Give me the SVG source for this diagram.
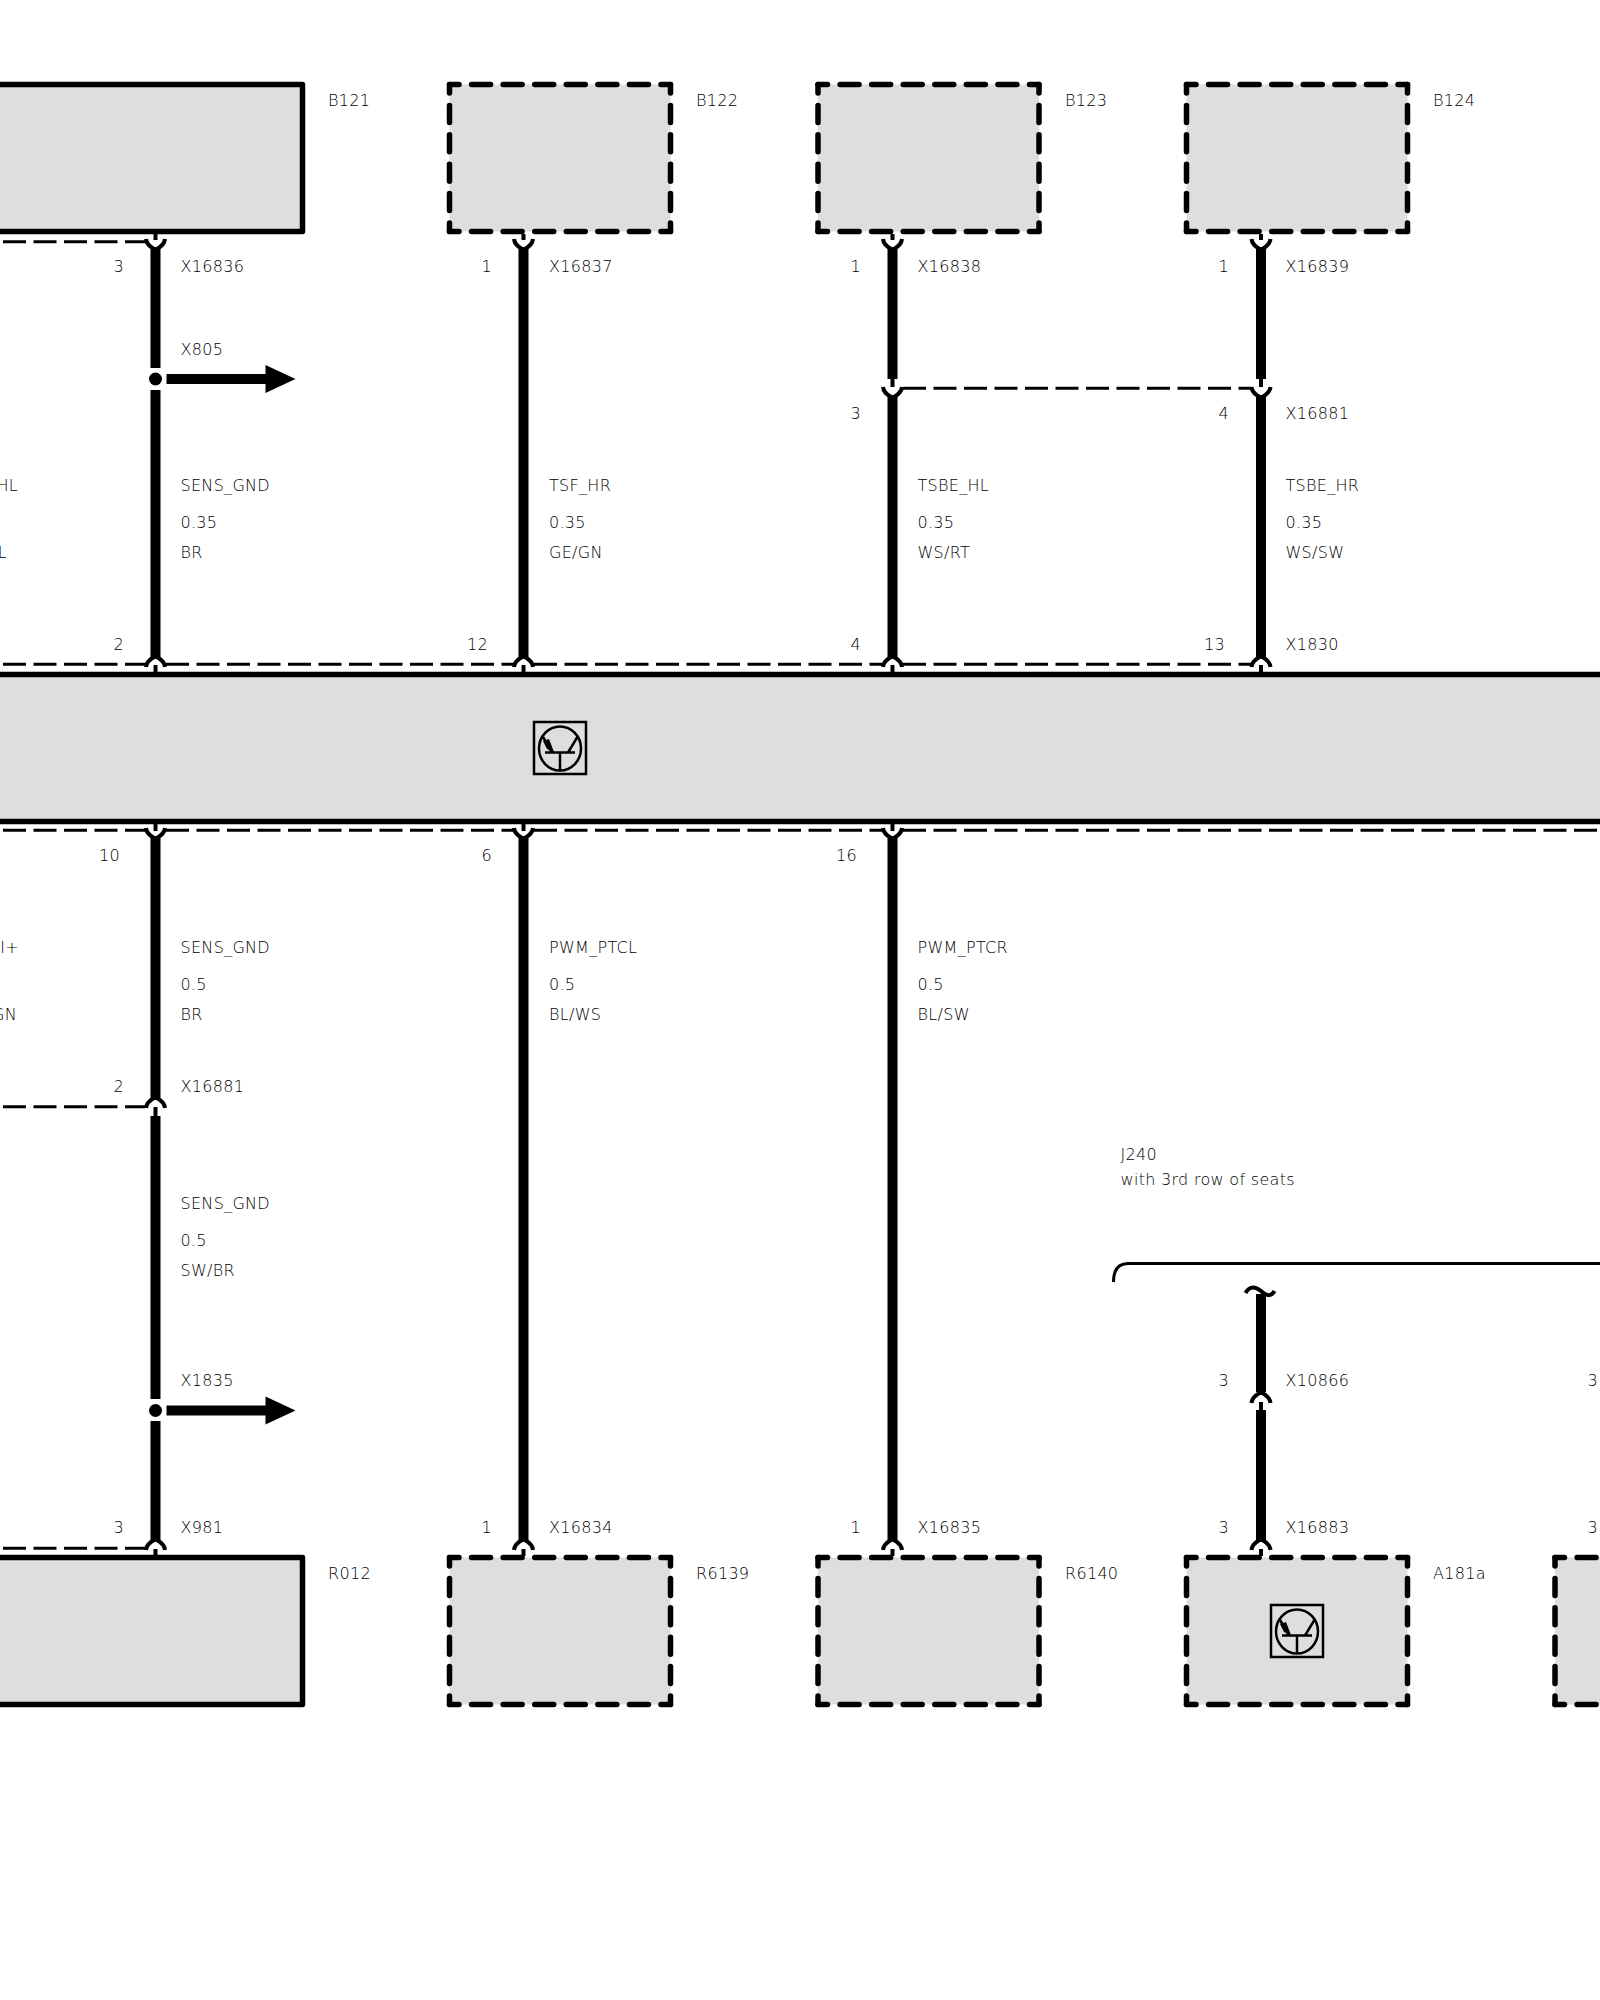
<svg xmlns="http://www.w3.org/2000/svg" xmlns:xlink="http://www.w3.org/1999/xlink" width="1600" height="2000" viewBox="0 0 1600 2000">
<style>
text{font-family:"DejaVu Sans","Liberation Sans",sans-serif;font-size:16px;font-weight:200;fill:#000;letter-spacing:.3px}
.e{text-anchor:end}
.box{fill:#dedede;stroke:none}
.solid{fill:#dedede;stroke:#000;stroke-width:5.5;stroke-linejoin:round}
.dh,.dv{fill:none;stroke:#000;stroke-width:5.5;stroke-linecap:round;stroke-linejoin:round}
.wire{stroke:#000;stroke-width:10;fill:none}
.stub{stroke:#000;stroke-width:4;fill:none}
.cup{stroke:#000;stroke-width:4;fill:none}
.dash{stroke:#000;stroke-width:3;fill:none;stroke-dasharray:23 7.5}
.icon{fill:none;stroke:#000;stroke-width:2.5}
</style>
<defs>
<path id="cupd" d="M-9.5 -2C-9 3-5 6-1.5 8L1.5 8C5 6 9 3 9.5 -2" class="cup"/>
<path id="capu" d="M-9.5 2C-9 -3-5 -6-1.5 -8L1.5 -8C5 -6 9 -3 9.5 2" class="cup"/>
<g id="dbox">
<rect class="box" x="0" y="0" width="221" height="147"/>
<path d="M0 0H221M0 147H221" class="dh" stroke-dasharray="19 12.57" stroke-dashoffset="9.5"/>
<path d="M0 0V147M221 0V147" class="dv" stroke-dasharray="17 12.4" stroke-dashoffset="8.5"/>
</g>
<g id="tr">
<rect x="-26" y="-26" width="52" height="52" fill="none" stroke="#000" stroke-width="2.5"/>
<ellipse class="icon" cx="0" cy="0.5" rx="21" ry="22"/>
<path class="icon" d="M-15 4.5H15M0 4.5V22M8 4.5L18 -12M-8 4.5L-17 -11"/>
<path d="M-17 -7L-11 -9L-6 4L-13 1Z" fill="#000"/>
</g>
<g id="arr">
<circle cx="0" cy="0" r="6.5" fill="#000"/>
<path d="M11 0H112" stroke="#000" stroke-width="10"/>
<path d="M110 -14L140 0L110 14Z" fill="#000"/>
</g>
</defs>
<g id="bus-X1830">
<rect x="-5" y="674.5" width="1610" height="147" class="solid"/>
<use xlink:href="#tr" href="#tr" x="560" y="748"/>
</g>
<g id="B121"><rect x="-20" y="84.5" width="322.5" height="147" class="solid"/><text x="328" y="105.5">B121</text></g>
<g id="B122"><use xlink:href="#dbox" href="#dbox" x="449.5" y="84.5"/><text x="696" y="105.5">B122</text></g>
<g id="B123"><use xlink:href="#dbox" href="#dbox" x="818" y="84.5"/><text x="1065" y="105.5">B123</text></g>
<g id="B124"><use xlink:href="#dbox" href="#dbox" x="1186.5" y="84.5"/><text x="1433" y="105.5">B124</text></g>
<g id="R012"><rect x="-20" y="1557.5" width="322.5" height="147" class="solid"/><text x="328" y="1579">R012</text></g>
<g id="R6139"><use xlink:href="#dbox" href="#dbox" x="449.5" y="1557.5"/><text x="696" y="1579">R6139</text></g>
<g id="R6140"><use xlink:href="#dbox" href="#dbox" x="818" y="1557.5"/><text x="1065" y="1579">R6140</text></g>
<g id="A181a"><use xlink:href="#dbox" href="#dbox" x="1186.5" y="1557.5"/><use xlink:href="#tr" href="#tr" x="1297" y="1631"/><text x="1433" y="1579">A181a</text></g>
<g id="offpage-box"><use xlink:href="#dbox" href="#dbox" x="1555" y="1557.5"/></g>
<g id="connectors">
<path class="wire" d="M155.5 249V368M155.5 390V657M155.5 838V1098M155.5 1116V1399M155.5 1421V1540"/>
<path class="wire" d="M523.5 249V657M523.5 838V1540"/>
<path class="wire" d="M892.5 249V379M892.5 396V657M892.5 838V1540"/>
<path class="wire" d="M1261 249V379M1261 396V657M1261 1294V1392M1261 1410V1540"/>
<path class="stub" d="M155.5 234V240M523.5 234V240M892.5 234V240M1261 234V240M892.5 378V387M1261 378V387M155.5 665V672M523.5 665V672M892.5 665V672M1261 665V672M155.5 824V831M523.5 824V831M892.5 824V831M155.5 1107V1117M1261 1402V1411M155.5 1549V1556M523.5 1549V1556M892.5 1549V1556M1261 1549V1556"/>
<path class="dash" d="M3 241.7H145M3 664.3H145M166 664.3H514M534 664.3H882M903 664.3H1251M903 388.3H1251M3 830.3H145M166 830.3H514M534 830.3H882M903 830.3H1600M3 1106.7H145M3 1548.3H145"/>
<use xlink:href="#cupd" href="#cupd" x="155.5" y="241"/><use xlink:href="#cupd" href="#cupd" x="523.5" y="241"/><use xlink:href="#cupd" href="#cupd" x="892.5" y="241"/><use xlink:href="#cupd" href="#cupd" x="1261" y="241"/>
<use xlink:href="#cupd" href="#cupd" x="892.5" y="389"/><use xlink:href="#cupd" href="#cupd" x="1261" y="389"/>
<use xlink:href="#capu" href="#capu" x="155.5" y="665"/><use xlink:href="#capu" href="#capu" x="523.5" y="665"/><use xlink:href="#capu" href="#capu" x="892.5" y="665"/><use xlink:href="#capu" href="#capu" x="1261" y="665"/>
<use xlink:href="#cupd" href="#cupd" x="155.5" y="830"/><use xlink:href="#cupd" href="#cupd" x="523.5" y="830"/><use xlink:href="#cupd" href="#cupd" x="892.5" y="830"/>
<use xlink:href="#capu" href="#capu" x="155.5" y="1106"/>
<use xlink:href="#capu" href="#capu" x="1261" y="1401"/>
<use xlink:href="#capu" href="#capu" x="155.5" y="1548"/><use xlink:href="#capu" href="#capu" x="523.5" y="1548"/><use xlink:href="#capu" href="#capu" x="892.5" y="1548"/><use xlink:href="#capu" href="#capu" x="1261" y="1548"/>
<path d="M1245.5 1293C1250 1285 1256 1287 1261 1291C1266 1296 1271 1297 1274.5 1291" class="cup"/>
<use xlink:href="#arr" href="#arr" x="155.5" y="379"/>
<use xlink:href="#arr" href="#arr" x="155.5" y="1410.5"/>
<path d="M1113.5 1282C1113.5 1270 1118 1263.5 1128 1263.5H1600" fill="none" stroke="#000" stroke-width="3"/>
</g>
<g id="labels">
<text class="e" x="124" y="272">3</text><text x="180.5" y="272">X16836</text>
<text x="180.5" y="355">X805</text>
<text class="e" x="492" y="272">1</text><text x="549" y="272">X16837</text>
<text class="e" x="861" y="272">1</text><text x="917.5" y="272">X16838</text>
<text class="e" x="1229" y="272">1</text><text x="1285.5" y="272">X16839</text>
<text class="e" x="861" y="419">3</text>
<text class="e" x="1229" y="419">4</text><text x="1285.5" y="419">X16881</text>
<text x="180.5" y="491">SENS_GND</text><text x="180.5" y="528">0.35</text><text x="180.5" y="557.5">BR</text>
<text x="549" y="491">TSF_HR</text><text x="549" y="528">0.35</text><text x="549" y="557.5">GE/GN</text>
<text x="917.5" y="491">TSBE_HL</text><text x="917.5" y="528">0.35</text><text x="917.5" y="557.5">WS/RT</text>
<text x="1285.5" y="491">TSBE_HR</text><text x="1285.5" y="528">0.35</text><text x="1285.5" y="557.5">WS/SW</text>
<text class="e" x="124" y="650">2</text><text class="e" x="488" y="650">12</text><text class="e" x="861" y="650">4</text><text class="e" x="1225" y="650">13</text><text x="1285.5" y="650">X1830</text>
<text class="e" x="120" y="861">10</text><text class="e" x="492" y="861">6</text><text class="e" x="857" y="861">16</text>
<text x="180.5" y="953">SENS_GND</text><text x="180.5" y="990">0.5</text><text x="180.5" y="1019.5">BR</text>
<text x="549" y="953">PWM_PTCL</text><text x="549" y="990">0.5</text><text x="549" y="1019.5">BL/WS</text>
<text x="917.5" y="953">PWM_PTCR</text><text x="917.5" y="990">0.5</text><text x="917.5" y="1019.5">BL/SW</text>
<text class="e" x="124" y="1092">2</text><text x="180.5" y="1092">X16881</text>
<text x="180.5" y="1209">SENS_GND</text><text x="180.5" y="1246">0.5</text><text x="180.5" y="1275.5">SW/BR</text>
<text x="180.5" y="1386">X1835</text>
<text class="e" x="124" y="1533">3</text><text x="180.5" y="1533">X981</text>
<text class="e" x="492" y="1533">1</text><text x="549" y="1533">X16834</text>
<text class="e" x="861" y="1533">1</text><text x="917.5" y="1533">X16835</text>
<text class="e" x="1229" y="1533">3</text><text x="1285.5" y="1533">X16883</text>
<text class="e" x="1229" y="1386">3</text><text x="1285.5" y="1386">X10866</text>
<text class="e" x="1598" y="1386">3</text><text class="e" x="1598" y="1533">3</text>
<text x="1120.5" y="1160">J240</text><text x="1120.5" y="1185">with 3rd row of seats</text>
<text class="e" x="18" y="491">HL</text><text class="e" x="7" y="557.5">L</text>
<text class="e" x="19" y="953">II+</text><text class="e" x="17" y="1019.5">GN</text>
</g>
</svg>
